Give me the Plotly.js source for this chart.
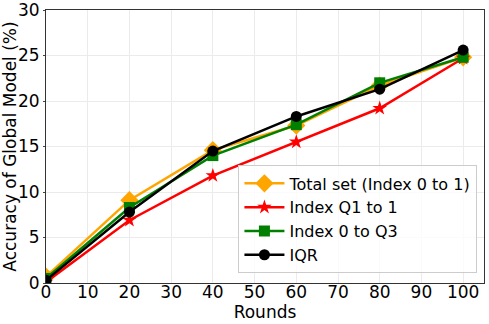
<!DOCTYPE html>
<html>
<head>
<meta charset="utf-8">
<script src="https://cdn.plot.ly/plotly-3.0.1.min.js"></script>
<style>
  html, body { margin: 0; padding: 0; background: #fff; }
  #gd { width: 489px; height: 324px; }
</style>
</head>
<body>
<div id="gd"></div>
<script>
// values
const rounds = [0, 20, 40, 60, 80, 100];
const totalSet = [0.7, 9.1, 14.6, 17.3, 21.7, 24.8];
const indexQ1to1 = [0.1, 6.9, 11.8, 15.5, 19.2, 24.7];
const index0toQ3 = [0.5, 8.3, 14.0, 17.4, 22.0, 24.8];
const iqr = [0.3, 7.8, 14.5, 18.3, 21.3, 25.6];
const xTicks = [0, 10, 20, 30, 40, 50, 60, 70, 80, 90, 100];
const yTicks = [0, 5, 10, 15, 20, 25, 30];

const mk = (y, name, color, symbol, size) => ({
  x: rounds, y: y, name: name, type: 'scatter', mode: 'lines+markers',
  line: { color: color, width: 2.5 },
  marker: { color: color, symbol: symbol, size: size }
});

const data = [
  mk(totalSet, 'Total set (Index 0 to 1)', 'orange', 'diamond', 14),
  mk(indexQ1to1, 'Index Q1 to 1', 'red', 'star', 11),
  mk(index0toQ3, 'Index 0 to Q3', 'green', 'square', 11),
  mk(iqr, 'IQR', 'black', 'circle', 11)
];

const font = { family: 'DejaVu Sans', size: 17, color: '#000' };

const layout = {
  width: 489, height: 324,
  margin: { l: 46, r: 5, t: 10, b: 41 },
  paper_bgcolor: '#fff', plot_bgcolor: '#fff',
  font: font,
  showlegend: true,
  xaxis: {
    range: [0, 105], tickvals: xTicks, ticks: '', ticklabeloverflow: 'allow',
    ticklabelstandoff: -6,
    showgrid: true, gridcolor: '#ebebeb', zeroline: false,
    showline: true, mirror: true, linecolor: '#333', linewidth: 1,
    title: { text: 'Rounds', font: font, standoff: 0 }
  },
  yaxis: {
    range: [0, 30], tickvals: yTicks, ticks: 'outside', ticklen: 2, ticklabeloverflow: 'allow',
    showgrid: true, gridcolor: '#ebebeb', zeroline: false,
    showline: true, mirror: true, linecolor: '#333', linewidth: 1,
    title: { text: 'Accuracy of Global Model (%)', font: font, standoff: 4 }
  },
  legend: {
    x: 0.985, y: 0.035, xanchor: 'right', yanchor: 'bottom',
    bgcolor: 'rgba(255,255,255,0.8)', bordercolor: '#ccc', borderwidth: 1,
    font: { family: 'DejaVu Sans', size: 16, color: '#000' },
    itemwidth: 40, tracegroupgap: 0
  }
};

Plotly.newPlot('gd', data, layout, { staticPlot: true });
</script>
</body>
</html>
